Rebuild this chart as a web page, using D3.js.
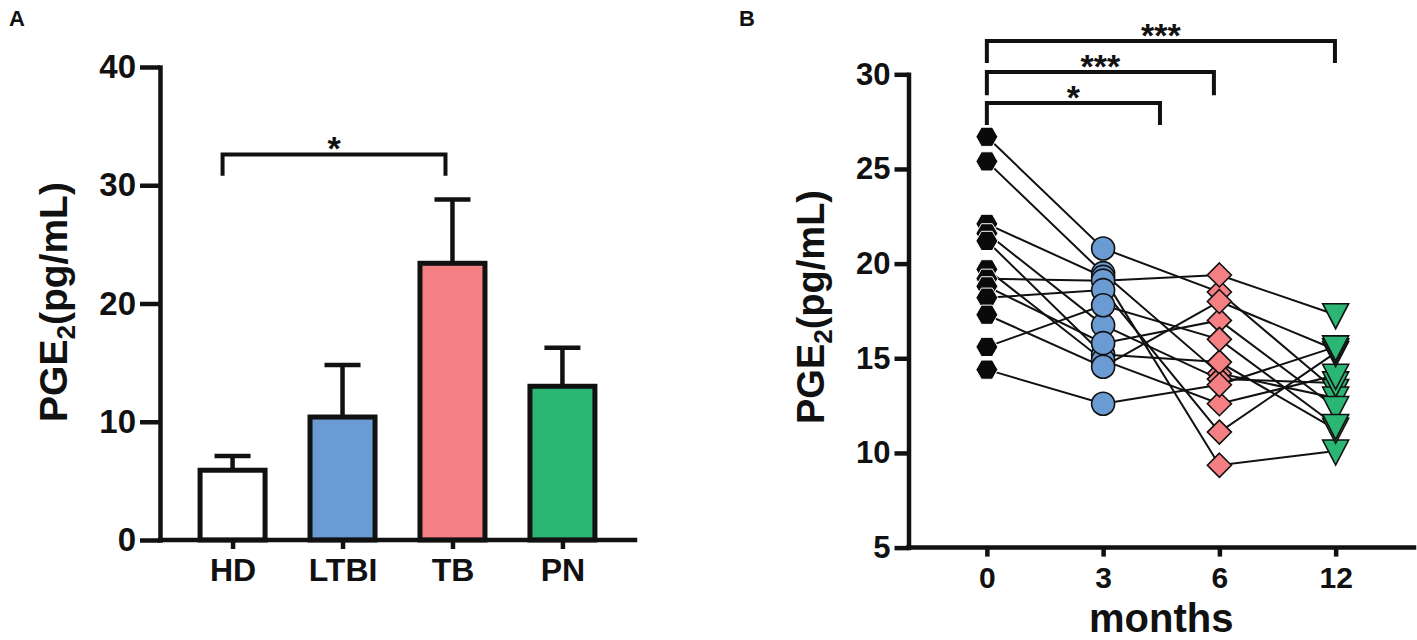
<!DOCTYPE html>
<html><head><meta charset="utf-8">
<script src="https://cdn.jsdelivr.net/npm/d3@7"></script>
<style>
body{margin:0;background:#fff}
svg{display:block}
text{font-family:"Liberation Sans",Arial,Helvetica,sans-serif;font-weight:bold;fill:#111}
</style></head><body>
<svg id="chart" width="1417" height="640"></svg>
<script>
// ---------- Panel A data ----------
const groupsA = ["HD","LTBI","TB","PN"];
const meansA = [5.9, 10.4, 23.4, 13.0];
const errorsA = [1.2, 4.4, 5.4, 3.25];
const coloursA = ["#ffffff","#6a9bd3","#f48083","#2bb673"];
const ticksA = [0,10,20,30,40];

// ---------- Panel B data (one entry per subject) ----------
const monthsB = ["0","3","6","12"];
const month0  = [26.7,25.4,22.1,21.6,21.2,19.7,19.2,18.8,18.2,17.3,15.6,14.4];
const month3  = [20.8,19.5,19.3,16.75,15.2,14.9,19.1,15.8,18.6,14.55,17.8,12.6];
const month6  = [18.5,14.2,9.35,13.9,14.8,12.6,19.4,17.0,11.1,18.0,16.0,13.6];
const month12 = [13.3,12.9,10.1,13.7,11.25,14.1,17.3,12.4,15.3,15.45,11.45,15.6];
const ticksB = [5,10,15,20,25,30];
const coloursB = ["#0a0a0a","#6a9bd3","#f48083","#2bb673"];

const svg = d3.select("#chart");
const ink = "#111";

// ================= Panel A =================
const gA = svg.append("g");
const yA = d3.scaleLinear().domain([0,40]).range([540,67]);
const xA = d3.scalePoint().domain(groupsA).range([160,635]).padding(0.66);

// bars
const barW = 65;
gA.selectAll("rect.bar").data(groupsA).join("rect")
  .attr("class","bar")
  .attr("x", d => xA(d) - barW/2)
  .attr("width", barW)
  .attr("y", (d,i) => yA(meansA[i]))
  .attr("height", (d,i) => yA(0) - yA(meansA[i]))
  .attr("fill", (d,i) => coloursA[i])
  .attr("stroke", ink).attr("stroke-width", 5);

// error bars (upper only)
gA.selectAll("line.err").data(groupsA).join("line")
  .attr("x1", d => xA(d)).attr("x2", d => xA(d))
  .attr("y1", (d,i) => yA(meansA[i]))
  .attr("y2", (d,i) => yA(meansA[i] + errorsA[i]))
  .attr("stroke", ink).attr("stroke-width", 4.5);
gA.selectAll("line.cap").data(groupsA).join("line")
  .attr("x1", d => xA(d) - 18).attr("x2", d => xA(d) + 18)
  .attr("y1", (d,i) => yA(meansA[i] + errorsA[i]))
  .attr("y2", (d,i) => yA(meansA[i] + errorsA[i]))
  .attr("stroke", ink).attr("stroke-width", 4.5);

// axes A
const yAxisA = gA.append("g").attr("transform","translate(160,0)")
  .call(d3.axisLeft(yA).tickValues(ticksA).tickSize(20).tickSizeOuter(0).tickPadding(4));
const xAxisA = gA.append("g").attr("transform","translate(0,540)")
  .call(d3.axisBottom(xA).tickSize(9).tickSizeOuter(0).tickPadding(9));
xAxisA.select(".domain").attr("d","M160,0H635");
[yAxisA, xAxisA].forEach(a => {
  a.select(".domain").attr("stroke", ink).attr("stroke-width", 4.5).attr("stroke-linecap","square");
  a.selectAll(".tick line").attr("stroke", ink).attr("stroke-width", 4.5);
  a.selectAll(".tick text").attr("fill", ink);
});
yAxisA.selectAll(".tick text").style("font-size","33px");
xAxisA.selectAll(".tick text").style("font-size","32px");

// significance bracket A
const brA = {from: xA("HD") - 10, to: xA("TB") - 7, top: 32.6, leg: 30.8};
gA.append("path")
  .attr("d", `M${brA.from},${yA(brA.leg)}V${yA(brA.top)}H${brA.to}V${yA(brA.leg)}`)
  .attr("fill","none").attr("stroke", ink).attr("stroke-width", 4);
gA.append("text").attr("x",(brA.from+brA.to)/2).attr("y", yA(brA.top) - 15)
  .attr("dy","0.6em").attr("text-anchor","middle").style("font-size","34px").text("*");

// y title A
const titleA = gA.append("text")
  .attr("transform","translate(67,302) rotate(-90)")
  .attr("text-anchor","middle").style("font-size","39px");
titleA.append("tspan").text("PGE");
titleA.append("tspan").attr("dy","8").style("font-size","26px").text("2");
titleA.append("tspan").attr("dy","-8").text("(pg/mL)");

svg.append("text").attr("x",9).attr("y",26).style("font-size","22px").text("A");

// ================= Panel B =================
const gB = svg.append("g");
const yB = d3.scaleLinear().domain([5,30]).range([547.6,74.3]);
const xB = d3.scalePoint().domain(monthsB).range([908.5,1414]).padding(0.674);
const xIdx = d3.scaleLinear().domain([0,3]).range([xB("0"), xB("12")]);

const columns = [month0, month3, month6, month12];
const subjects = month0.map((d,i) => columns.map((col,j) => ({m: monthsB[j], v: col[i]})));

const line = d3.line().x(d => xB(d.m)).y(d => yB(d.v));
gB.selectAll("path.subj").data(subjects).join("path")
  .attr("d", line).attr("fill","none").attr("stroke", ink).attr("stroke-width", 2);

// marker shapes
const hexPath = "M-11,0L-5.5,-9.6L5.5,-9.6L11,0L5.5,9.6L-5.5,9.6Z";
const diamondPath = "M0,-12L12,0L0,12L-12,0Z";
const triPath = "M-13,-11L13,-11L0,14Z";

columns.forEach((col, j) => {
  const m = monthsB[j];
  const sel = gB.append("g").selectAll("g").data(col).join("g")
    .attr("transform", d => `translate(${xB(m)},${yB(d)})`);
  if (j === 0) {
    sel.append("path").attr("d", hexPath).attr("fill", coloursB[0])
      .attr("stroke", "#fff").attr("stroke-width", 1);
  } else if (j === 1) {
    sel.append("circle").attr("r", 11.5).attr("fill", coloursB[1])
      .attr("stroke", ink).attr("stroke-width", 1.6);
  } else if (j === 2) {
    sel.append("path").attr("d", diamondPath).attr("fill", coloursB[2])
      .attr("stroke", ink).attr("stroke-width", 1.6);
  } else {
    sel.append("path").attr("d", triPath).attr("fill", coloursB[3])
      .attr("stroke", ink).attr("stroke-width", 1.6);
  }
});

// axes B
const yAxisB = gB.append("g").attr("transform","translate(908.5,0)")
  .call(d3.axisLeft(yB).tickValues(ticksB).tickSize(14).tickSizeOuter(0).tickPadding(4));
const xAxisB = gB.append("g").attr("transform","translate(0,547.6)")
  .call(d3.axisBottom(xB).tickSize(9).tickSizeOuter(0).tickPadding(10));
xAxisB.select(".domain").attr("d","M908.5,0H1414");
[yAxisB, xAxisB].forEach(a => {
  a.select(".domain").attr("stroke", ink).attr("stroke-width", 4.5).attr("stroke-linecap","square");
  a.selectAll(".tick line").attr("stroke", ink).attr("stroke-width", 4.5);
});
yAxisB.selectAll(".tick text").style("font-size","31px").attr("fill", ink);
xAxisB.selectAll(".tick text").style("font-size","30px").attr("fill", ink);

// significance brackets B
const bracketsB = [
  {to: 1.489, top: 28.48, leg: 27.32, label: "*"},
  {to: 1.953, top: 30.12, leg: 28.9,  label: "***"},
  {to: 2.994, top: 31.76, leg: 30.6,  label: "***"}
];
bracketsB.forEach(b => {
  const x0 = xIdx(0), x1 = xIdx(b.to);
  gB.append("path")
    .attr("d", `M${x0},${yB(b.leg)}V${yB(b.top)}H${x1}V${yB(b.leg)}`)
    .attr("fill","none").attr("stroke", ink).attr("stroke-width", 4);
  gB.append("text").attr("x",(x0+x1)/2).attr("y", yB(b.top) - 14)
    .attr("dy","0.6em").attr("text-anchor","middle").style("font-size","34px").text(b.label);
});

// titles B
const titleB = gB.append("text")
  .attr("transform","translate(824,307) rotate(-90)")
  .attr("text-anchor","middle").style("font-size","38px");
titleB.append("tspan").text("PGE");
titleB.append("tspan").attr("dy","8").style("font-size","26px").text("2");
titleB.append("tspan").attr("dy","-8").text("(pg/mL)");

gB.append("text").attr("x", (xB("0")+xB("12"))/2).attr("y", 632)
  .attr("text-anchor","middle").style("font-size","40px").text("months");

svg.append("text").attr("x",739).attr("y",26).style("font-size","22px").text("B");
</script>
</body></html>
